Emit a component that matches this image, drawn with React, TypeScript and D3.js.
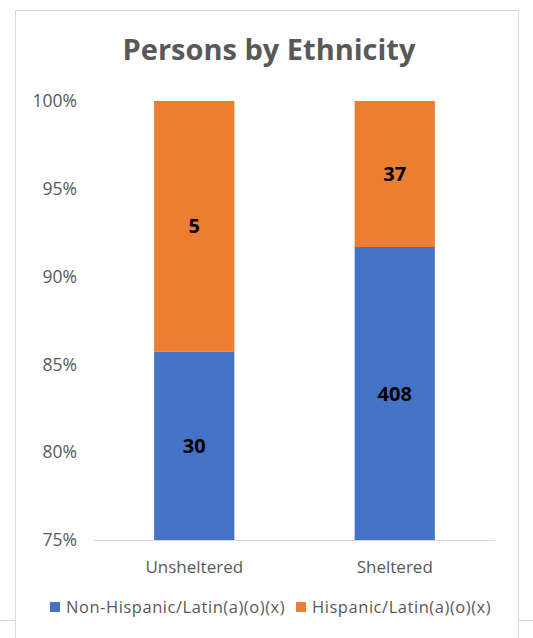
import React from "react";
import * as d3 from "d3";

const categories = ["Unsheltered", "Sheltered"];
const seriesNames = ["Non-Hispanic/Latin(a)(o)(x)", "Hispanic/Latin(a)(o)(x)"];
const nonHispanic = [30, 408];
const hispanic = [5, 37];
const colors = ["#4472C4", "#ED7D31"];
const yTicks = [0.75, 0.8, 0.85, 0.9, 0.95, 1.0];

export default function App() {
  const W = 533, H = 638;
  const plotL = 94, plotR = 495, plotT = 101, plotB = 540;
  const x = d3.scaleBand().domain(categories).range([plotL, plotR]).paddingInner(0.6).paddingOuter(0.3);
  const y = d3.scaleLinear().domain([0.75, 1]).range([plotB, plotT]);
  const font = "'Open Sans', Lato, sans-serif";
  const rows = categories.map((c, i) => {
    const total = nonHispanic[i] + hispanic[i];
    return { c, a: nonHispanic[i], b: hispanic[i], pa: nonHispanic[i] / total };
  });
  return (
    <svg width={W} height={H} style={{ position: "absolute", left: 0, top: 0 }}>
      <rect x={0} y={0} width={W} height={H} fill="#fff" />
      <line x1={0} x2={W} y1={620.5} y2={620.5} stroke="#d9d9d9" />
      <rect x={15.5} y={10.5} width={503} height={H} fill="#fff" stroke="#d9d9d9" />
      <text x={269} y={60} textAnchor="middle" fontFamily={font} fontWeight="bold" fontSize={29} fill="#595959">
        Persons by Ethnicity
      </text>
      {yTicks.map((t) => (
        <text key={t} x={77} y={y(t)} dy="0.35em" textAnchor="end" fontFamily={font} fontSize={17.5} fill="#595959">
          {d3.format(".0%")(t)}
        </text>
      ))}
      {rows.map((r) => {
        const bx = x(r.c)!;
        const bw = x.bandwidth();
        const yMid = y(r.pa);
        return (
          <g key={r.c}>
            <rect x={bx} y={yMid} width={bw} height={plotB - yMid} fill={colors[0]} />
            <rect x={bx} y={y(1)} width={bw} height={yMid - y(1)} fill={colors[1]} />
            <text x={bx + bw / 2} y={(yMid + plotB) / 2} dy="0.35em" textAnchor="middle" fontFamily={font} fontWeight="bold" fontSize={20} fill="#000">
              {r.a}
            </text>
            <text x={bx + bw / 2} y={(yMid + y(1)) / 2} dy="0.35em" textAnchor="middle" fontFamily={font} fontWeight="bold" fontSize={20} fill="#000">
              {r.b}
            </text>
            <text x={bx + bw / 2} y={567} dy="0.35em" textAnchor="middle" fontFamily={font} fontSize={17} fill="#595959">
              {r.c}
            </text>
          </g>
        );
      })}
      <line x1={plotL} x2={plotR} y1={plotB + 0.5} y2={plotB + 0.5} stroke="#d9d9d9" />
      {seriesNames.map((s, i) => {
        const lx = i === 0 ? 50 : 296;
        return (
          <g key={s}>
            <rect x={lx} y={602} width={10} height={10} fill={colors[i]} />
            <text x={lx + 16} y={607} dy="0.35em" fontFamily={font} fontSize={16.5} letterSpacing={0.55} fill="#595959">
              {s}
            </text>
          </g>
        );
      })}
    </svg>
  );
}
